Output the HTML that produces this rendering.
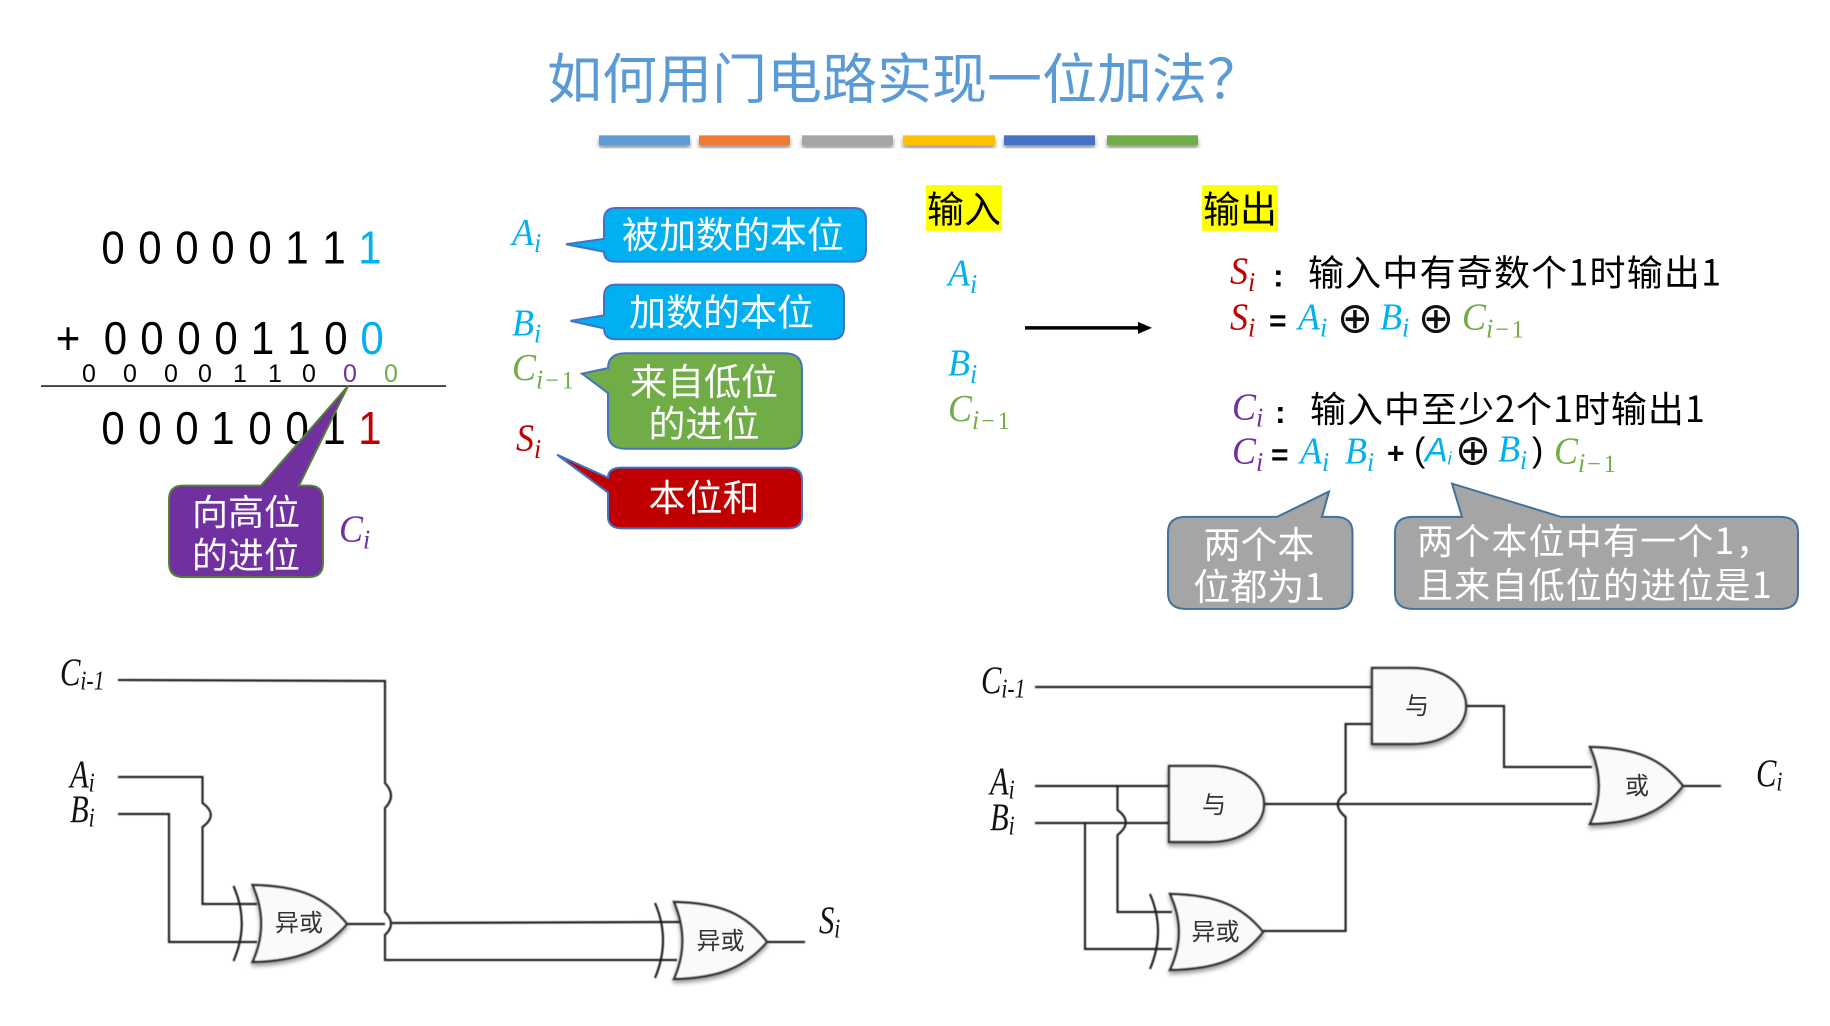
<!DOCTYPE html>
<html>
<head>
<meta charset="utf-8">
<style>
html,body{margin:0;padding:0;background:#fff;width:1830px;height:1026px;overflow:hidden}
svg{display:block}
.c{font-family:"Liberation Sans","Noto Sans CJK SC",sans-serif}
.n{font-family:"Noto Sans CJK SC","Liberation Sans",sans-serif}
.x{font-family:"DejaVu Sans",sans-serif;font-size:43px;fill:#111;text-anchor:middle}
.m{font-family:"Liberation Serif",serif;font-style:italic;font-size:36px}
.k{font-family:"Liberation Serif",serif;font-style:italic;font-size:34px;fill:#111}
.d{font-family:"Liberation Sans",sans-serif;font-size:42px}
.w{fill:none;stroke:#222;stroke-width:2.2}
.g{fill:#fafafa;stroke:#333;stroke-width:2.4}
.t{font-family:"Noto Sans CJK SC",sans-serif;font-size:24px;fill:#333;text-anchor:middle}
</style>
</head>
<body>
<svg width="1830" height="1026" viewBox="0 0 1830 1026" xmlns="http://www.w3.org/2000/svg">
<defs>
<filter id="s" x="-20%" y="-20%" width="140%" height="150%"><feDropShadow dx="0" dy="3" stdDeviation="2" flood-color="#000" flood-opacity=".4"/></filter>
<filter id="b" x="-5%" y="-5%" width="110%" height="110%"><feGaussianBlur stdDeviation=".45"/></filter>
</defs>

<g transform="scale(1,0.995)">
<!-- title -->
<text class="n" x="547" y="99" font-size="55" fill="#5B9BD5">如何用门电路实现一位加法？</text>
<g filter="url(#s)">
<rect x="599" y="136" width="91" height="10" fill="#5B9BD5"/>
<rect x="699" y="136" width="91" height="10" fill="#ED7D31"/>
<rect x="802" y="136" width="91" height="10" fill="#A5A5A5"/>
<rect x="903" y="136" width="92" height="10" fill="#FFC000"/>
<rect x="1004" y="136" width="91" height="10" fill="#4472C4"/>
<rect x="1107" y="136" width="91" height="10" fill="#70AD47"/>
</g>

<!-- binary addition -->
<text class="d" transform="translate(0,265) scale(1,1.12)" text-anchor="middle" x="113 150 187 223 260 297 334">0000011</text>
<text class="d" transform="translate(0,265) scale(1,1.12)" text-anchor="middle" x="370" fill="#00B0F0">1</text>
<text class="d" transform="translate(0,356) scale(1,1.12)" text-anchor="middle" x="68 115.5 152 189 226 262.5 299 336">+0000110</text>
<text class="d" transform="translate(0,356) scale(1,1.12)" text-anchor="middle" x="372" fill="#00B0F0">0</text>
<text class="d" style="font-size:25px" transform="translate(0,384) scale(1,1.02)" text-anchor="middle" x="89 130 171 205 240 275 309">0000110</text>
<text class="d" style="font-size:25px" transform="translate(0,384) scale(1,1.02)" text-anchor="middle" x="350" fill="#7030A0">0</text>
<text class="d" style="font-size:25px" transform="translate(0,384) scale(1,1.02)" text-anchor="middle" x="391" fill="#70AD47">0</text>
<line x1="41" y1="388" x2="446" y2="388" stroke="#222" stroke-width="1.6"/>
<text class="d" transform="translate(0,446) scale(1,1.12)" text-anchor="middle" x="113 150 187 223 260 297 334">0001001</text>
<text class="d" transform="translate(0,446) scale(1,1.12)" text-anchor="middle" x="370" fill="#C00000">1</text>

<!-- purple callout -->
<path d="M183 488 H261 L348 388 L299 488 H309 Q323 488 323 502 V566 Q323 580 309 580 H183 Q169 580 169 566 V502 Q169 488 183 488Z" fill="#7030A0" stroke="#548235" stroke-width="2"/>
<text class="n" x="246" y="527.5" font-size="36" fill="#fff" text-anchor="middle">向高位</text>
<text class="n" x="246" y="571" font-size="36" fill="#fff" text-anchor="middle">的进位</text>
<text class="m" transform="translate(339,544) scale(1,1.05)" fill="#7030A0">C<tspan font-size="26" dy="7">i</tspan></text>

<!-- middle labels -->
<text class="m" transform="translate(512,246) scale(1,1.05)" fill="#00B0F0">A<tspan font-size="26" dy="7">i</tspan></text>
<text class="m" transform="translate(512,337) scale(1,1.05)" fill="#00B0F0">B<tspan font-size="26" dy="7">i</tspan></text>
<text class="m" transform="translate(512,382) scale(1,1.05)" fill="#70AD47">C<tspan font-size="26" dy="8" letter-spacing="2">i</tspan><tspan font-size="24" font-style="normal" letter-spacing="3">−1</tspan></text>
<text class="m" transform="translate(516,453) scale(1,1.05)" fill="#C00000">S<tspan font-size="26" dy="7">i</tspan></text>

<!-- colored callouts -->
<path d="M616 209 H854 Q866 209 866 221 V251 Q866 263 854 263 H616 Q604 263 604 253 L566 245.5 L604 240 V221 Q604 209 616 209Z" fill="#00B0F0" stroke="#4472C4" stroke-width="2"/>
<text class="n" x="622" y="249" font-size="37" fill="#fff">被加数的本位</text>

<path d="M616 286 H832 Q844 286 844 298 V329 Q844 341 832 341 H616 Q604 341 604 330 L570.5 322.5 L604 317 V298 Q604 286 616 286Z" fill="#00B0F0" stroke="#4472C4" stroke-width="2"/>
<text class="n" x="629" y="327" font-size="37" fill="#fff">加数的本位</text>

<path d="M626 355 H784 Q802 355 802 371 V435 Q802 451 784 451 H626 Q608 451 608 435 V395 L582 375.5 L608 370 Q608 355 626 355Z" fill="#70AD47" stroke="#4472C4" stroke-width="2"/>
<text class="n" x="704" y="397" font-size="37" fill="#fff" text-anchor="middle">来自低位</text>
<text class="n" x="704" y="439" font-size="37" fill="#fff" text-anchor="middle">的进位</text>

<path d="M622 470 H788 Q802 470 802 482 V519 Q802 531 788 531 H622 Q608 531 608 519 V495 L557 457 L608 480 Q608 470 622 470Z" fill="#C00000" stroke="#4472C4" stroke-width="2"/>
<text class="n" x="704" y="513.5" font-size="37" fill="#fff" text-anchor="middle">本位和</text>

<!-- input / output -->
<rect x="926" y="186" width="76" height="46" fill="#FFFF00"/>
<rect x="1202" y="186" width="76" height="46" fill="#FFFF00"/>
<text class="n" x="927" y="223.5" font-size="37" fill="#000">输入</text>
<text class="n" x="1203" y="223.5" font-size="37" fill="#000">输出</text>
<text class="m" transform="translate(948,287) scale(1,1.05)" fill="#00B0F0">A<tspan font-size="26" dy="7">i</tspan></text>
<text class="m" transform="translate(948,377.5) scale(1,1.05)" fill="#00B0F0">B<tspan font-size="26" dy="7">i</tspan></text>
<text class="m" transform="translate(948,423) scale(1,1.05)" fill="#70AD47">C<tspan font-size="26" dy="8" letter-spacing="2">i</tspan><tspan font-size="24" font-style="normal" letter-spacing="3">−1</tspan></text>
<line x1="1025" y1="329.5" x2="1140" y2="329.5" stroke="#000" stroke-width="3.5"/>
<path d="M1138 323.5 L1152 329.5 L1138 335.5Z" fill="#000"/>

<!-- formulas -->
<text class="m" transform="translate(1230,285) scale(1,1.05)" fill="#C00000">S<tspan font-size="26" dy="7">i</tspan></text>
<text class="c" x="1273" y="288" font-size="32" fill="#000" font-weight="700">:</text>
<text class="n" x="1308" y="287" font-size="36" fill="#000" letter-spacing="1.2">输入中有奇数个1时输出1</text>

<text class="m" transform="translate(1230,331) scale(1,1.05)" fill="#C00000">S<tspan font-size="26" dy="7">i</tspan></text>
<text class="c" x="1269" y="332" font-size="30" fill="#000" font-weight="700">=</text>
<text class="m" transform="translate(1298,331) scale(1,1.05)" fill="#00B0F0">A<tspan font-size="26" dy="7">i</tspan></text>
<text class="x" x="1355" y="334">⊕</text>
<text class="m" transform="translate(1380,331) scale(1,1.05)" fill="#00B0F0">B<tspan font-size="26" dy="7">i</tspan></text>
<text class="x" x="1436" y="334">⊕</text>
<text class="m" transform="translate(1462,331) scale(1,1.05)" fill="#70AD47">C<tspan font-size="26" dy="8" letter-spacing="2">i</tspan><tspan font-size="24" font-style="normal" letter-spacing="3">−1</tspan></text>

<text class="m" transform="translate(1232,421.5) scale(1,1.05)" fill="#7030A0">C<tspan font-size="26" dy="7">i</tspan></text>
<text class="c" x="1275" y="425" font-size="32" fill="#000" font-weight="700">:</text>
<text class="n" x="1310" y="424" font-size="36" fill="#000" letter-spacing="1">输入中至少2个1时输出1</text>

<text class="m" transform="translate(1232,466) scale(1,1.05)" fill="#7030A0">C<tspan font-size="26" dy="7">i</tspan></text>
<text class="c" x="1271" y="467" font-size="30" fill="#000" font-weight="700">=</text>
<text class="m" transform="translate(1300,466) scale(1,1.05)" fill="#00B0F0">A<tspan font-size="26" dy="7">i</tspan></text>
<text class="m" transform="translate(1345,466) scale(1,1.05)" fill="#00B0F0">B<tspan font-size="26" dy="7">i</tspan></text>
<text class="c" x="1387" y="466" font-size="30" fill="#000" font-weight="700">+</text>
<text class="c" x="1414" y="464" font-size="34" fill="#000">(</text>
<text class="c" x="1425" y="464" font-size="34" fill="#00B0F0" font-style="italic">A<tspan font-size="18" dy="3">i</tspan></text>
<text class="x" x="1473" y="467">⊕</text>
<text class="m" transform="translate(1498,464) scale(1,1.05)" fill="#00B0F0">B<tspan font-size="26" dy="7">i</tspan></text>
<text class="c" x="1532" y="464" font-size="34" fill="#000">)</text>
<text class="m" transform="translate(1554,466) scale(1,1.05)" fill="#70AD47">C<tspan font-size="26" dy="8" letter-spacing="2">i</tspan><tspan font-size="24" font-style="normal" letter-spacing="3">−1</tspan></text>

<!-- grey callouts -->
<path d="M1186 519.5 H1277 L1329 494 L1322 519.5 H1335 Q1352.5 519.5 1352.5 535 V596 Q1352.5 612 1335 612 H1186 Q1168 612 1168 596 V535 Q1168 519.5 1186 519.5Z" fill="#A5A5A5" stroke="#41719C" stroke-width="2"/>
<text class="n" x="1259" y="561" font-size="37" fill="#fff" text-anchor="middle">两个本</text>
<text class="n" x="1259" y="603" font-size="37" fill="#fff" text-anchor="middle">位都为1</text>

<path d="M1413 519.5 H1462 L1452 486 L1561 519.5 H1780 Q1798 519.5 1798 535 V596 Q1798 612 1780 612 H1413 Q1395 612 1395 596 V535 Q1395 519.5 1413 519.5Z" fill="#A5A5A5" stroke="#41719C" stroke-width="2"/>
<text class="n" x="1417" y="557" font-size="36" fill="#fff" letter-spacing="1.2">两个本位中有一个1，</text>
<text class="n" x="1417" y="601" font-size="36" fill="#fff" letter-spacing="1.2">且来自低位的进位是1</text>
</g>

<!-- left circuit -->
<g filter="url(#b)">
<path class="w" d="M118 680 L385 681 V783 Q397 796 385 808 V912 Q397 924 385 935 V960 H677"/>
<path class="w" d="M118 777 H202.5 V803 Q219 815 202.5 827 V904 H257"/>
<path class="w" d="M118 814 H169 V942 H257"/>
<path class="w" d="M347 924 H385"/>
<path class="w" d="M392 923 L680 922"/>
<path class="w" d="M767 942 H805"/>
<path class="w" d="M233.5 886 Q250 923 233.5 961"/>
<path class="w" d="M655 903 Q671 940 655 978"/>
<path class="g" filter="url(#s)" d="M252.6 885 C300 886 325 897 347 924 C325 949 300 961 252.6 962 Q270 924 252.6 885Z"/>
<path class="g" filter="url(#s)" d="M674 902 C721 903 746 914 767 942 C746 966 721 978 674 979 Q691 941 674 902Z"/>
</g>
<text class="t" x="299" y="931">异或</text>
<text class="t" x="720.5" y="949">异或</text>
<text class="k" transform="translate(60,685) scale(.9,1.15)">C<tspan font-size="24" dy="4">i-1</tspan></text>
<text class="k" transform="translate(70,787) scale(.9,1.15)">A<tspan font-size="24" dy="4">i</tspan></text>
<text class="k" transform="translate(70,822) scale(.9,1.15)">B<tspan font-size="24" dy="4">i</tspan></text>
<text class="k" transform="translate(819,933) scale(.9,1.15)">S<tspan font-size="24" dy="4">i</tspan></text>

<!-- right circuit -->
<g filter="url(#b)">
<path class="w" d="M1035 687 H1372"/>
<path class="w" d="M1466 706 H1504 V767 H1592"/>
<path class="w" d="M1372 724 H1345.6 V793 Q1330 804 1345.6 817 V931 H1263"/>
<path class="w" d="M1264 804 H1592"/>
<path class="w" d="M1683 786 H1721"/>
<path class="w" d="M1035 786 H1170"/>
<path class="w" d="M1035 823 H1170"/>
<path class="w" d="M1117.5 786 V810 Q1134 822 1117.5 835 V912 H1172"/>
<path class="w" d="M1085 823 V949 H1172"/>
<path class="w" d="M1150 894 Q1166 931 1150 969"/>
<path class="g" filter="url(#s)" d="M1372 668 H1411 C1445 668 1466 685 1466 706 C1466 727 1445 744 1411 744 H1372Z"/>
<path class="g" filter="url(#s)" d="M1169 766 H1209 C1243 766 1264 783 1264 804 C1264 825 1243 842 1209 842 H1169Z"/>
<path class="g" filter="url(#s)" d="M1590 747 C1637 748 1662 759 1683 786 C1662 812 1637 823 1590 824 Q1608 786 1590 747Z"/>
<path class="g" filter="url(#s)" d="M1170 894 C1217 895 1242 906 1263 932 C1242 959 1217 969 1170 970 Q1188 932 1170 894Z"/>
</g>
<text class="t" x="1417" y="714">与</text>
<text class="t" x="1214" y="813">与</text>
<text class="t" x="1637" y="794">或</text>
<text class="t" x="1215.5" y="940">异或</text>
<text class="k" transform="translate(981,693) scale(.9,1.15)">C<tspan font-size="24" dy="4">i-1</tspan></text>
<text class="k" transform="translate(990,794) scale(.9,1.15)">A<tspan font-size="24" dy="4">i</tspan></text>
<text class="k" transform="translate(990,830) scale(.9,1.15)">B<tspan font-size="24" dy="4">i</tspan></text>
<text class="k" transform="translate(1756,786) scale(.9,1.15)">C<tspan font-size="24" dy="4">i</tspan></text>
</svg>
</body>
</html>
